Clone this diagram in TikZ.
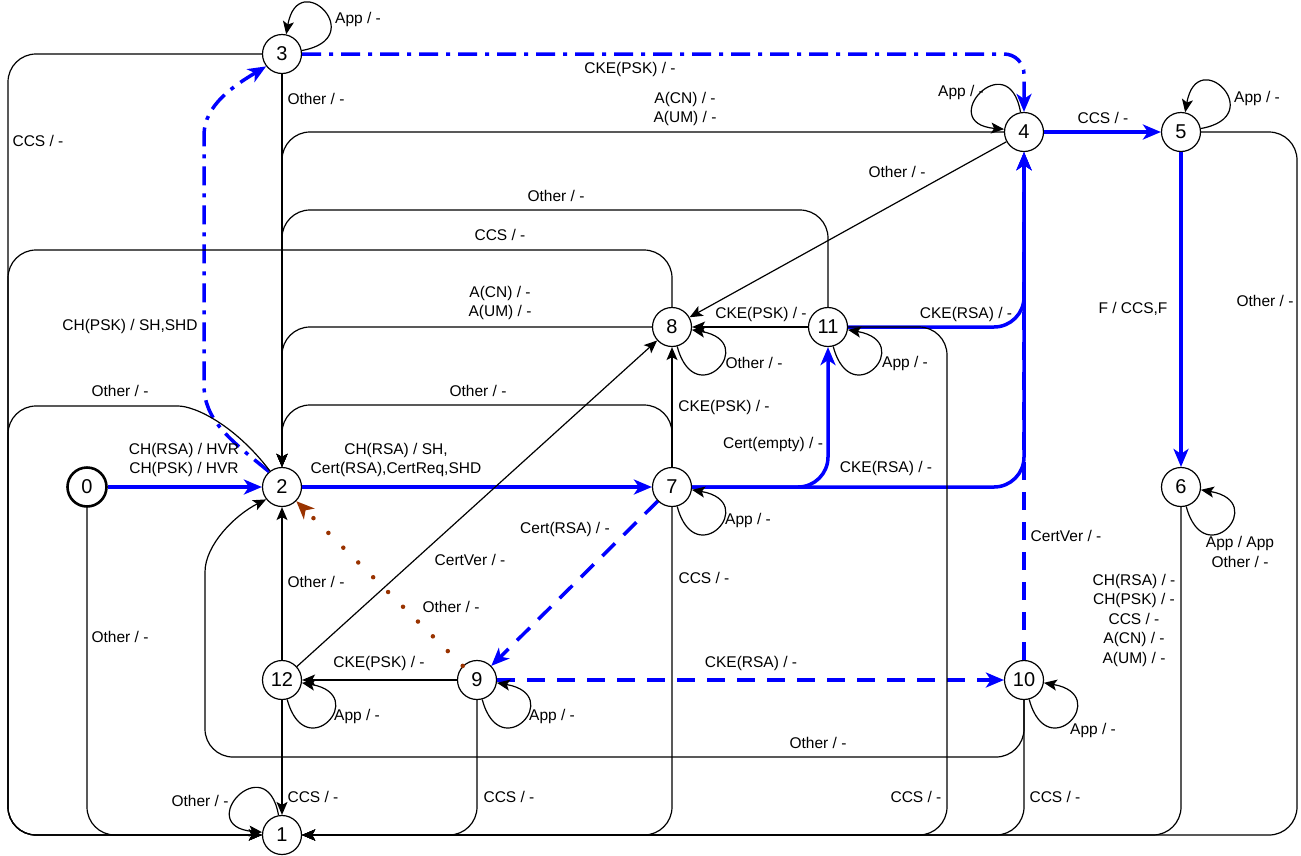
\documentclass[tikz,border=0pt]{standalone}
\usepackage{fontspec}
\setmainfont{Liberation Sans}
\usetikzlibrary{arrows.meta}
\definecolor{hsblue}{RGB}{0,0,255}
\definecolor{rust}{RGB}{153,51,0}

\begin{document}
\begin{tikzpicture}[
        x=1pt, y=1pt,
        every node/.style={font=\fontsize{15.5}{19.5}\selectfont},
        state/.style={draw, circle, minimum size=39pt, inner sep=0pt, line width=1.2pt,
                      fill=white, font=\fontsize{20}{24}\selectfont},
        init/.style={state, line width=2.6pt},
        lbl/.style={align=center, inner sep=0pt},
        tr/.style={-{Stealth[length=13pt, width=11pt, inset=3pt]}, line width=1.2pt,
                   rounded corners=28pt},
        hs/.style={-{Stealth[length=18pt, width=15pt, inset=5pt]}, line width=3.5pt,
                   draw=hsblue, rounded corners=30pt},
        psk/.style={hs, dash pattern=on 19pt off 8pt on 4pt off 8pt},
        rsa/.style={hs, dash pattern=on 18pt off 12pt},
        back/.style={-{Stealth[length=18pt, width=15pt, inset=5pt]}, draw=rust,
                     line width=4.5pt, line cap=round, dash pattern=on 0pt off 21pt}]

      \path[use as bounding box, fill=white] (0,0) rectangle (1301,-855);

      \node[init]  (n0)  at (87,-487)   {0};
      \node[state] (n1)  at (282,-835)  {1};
      \node[state] (n2)  at (282,-487)  {2};
      \node[state] (n3)  at (282,-54)   {3};
      \node[state] (n4)  at (1024,-132) {4};
      \node[state] (n5)  at (1181,-132) {5};
      \node[state] (n6)  at (1181,-487) {6};
      \node[state] (n7)  at (672,-487)  {7};
      \node[state] (n8)  at (672,-327)  {8};
      \node[state] (n9)  at (477,-680)  {9};
      \node[state] (n10) at (1024,-680) {10};
      \node[state] (n11) at (828,-327)  {11};
      \node[state] (n12) at (282,-680)  {12};

      % happy paths
      \draw[hs] (n0) -- (n2);
      \draw[hs] (n2) -- (n7);
      \draw[hs] (n4) -- (n5);
      \draw[hs] (n5) -- (n6);
      \draw[rsa] (n7) -- (n9);
      \draw[rsa] (n9) -- (n10);
      \draw[rsa] (n10) -- (n4);
      \draw[hs] (n7.east) -| (n11.south);
      \draw[hs] (n7.east) -| (n4.south);
      \draw[hs] (n11.east) -| (n4.south);
      \draw[psk, sharp corners] (n2.130) .. controls (230,-440) and (204,-420) .. (204,-385)
                 -- (204,-135) .. controls (204,-105) and (235,-85) .. (n3.218);
      \draw[psk, rounded corners=20pt] (n3.east) -| (n4.north);
      \draw[back] (n9) -- (n2);

      % to state 1
      \draw[tr] (n0.south) |- (n1.west);
      \draw[tr] (n3.west) -| (8,-835) -- (n1.west);
      \draw[tr] (n8.north) |- (8,-250) -- (8,-835) -- (n1.west);
      \draw[tr] (n2.127) .. controls (235,-425) and (195,-406) .. (150,-406) -| (8,-835) -- (n1.west);
      \draw[tr] (n12) -- (n1);
      \draw[tr] (n9.south) |- (n1.east);
      \draw[tr] (n7.south) |- (n1.east);
      \draw[tr] (n11.east) -| (947,-835) -- (n1.east);
      \draw[tr] (n10.south) |- (n1.east);
      \draw[tr] (n6.south) |- (n1.east);
      \draw[tr] (n5.east) -| (1297,-835) -- (n1.east);

      % to state 2
      \draw[tr] (n3) -- (n2);
      \draw[tr] (n4.west) -| (n2.north);
      \draw[tr] (n11.north) |- (282,-210) -- (n2.north);
      \draw[tr] (n8.west) -| (n2.north);
      \draw[tr] (n7.north) |- (282,-405) -- (n2.north);
      \draw[tr] (n12) -- (n2);
      \draw[tr] (n10.south) |- (205,-757) -- (205,-600)
                .. controls (205,-545) and (235,-515) .. (n2.218);

      % the rest
      \draw[tr] (n7) -- (n8);
      \draw[tr] (n11) -- (n8);
      \draw[tr] (n4) -- (n8);
      \draw[tr] (n12) -- (n8);
      \draw[tr] (n9) -- (n12);

      % self loops
      \draw[tr] (n1.100) .. controls +(100:70) and +(175:70) .. (n1.172);
      \draw[tr] (n3.10) .. controls +(10:70) and +(80:70) .. (n3.78);
      \draw[tr] (n4.100) .. controls +(100:70) and +(175:70) .. (n4.172);
      \draw[tr] (n5.10) .. controls +(10:70) and +(80:70) .. (n5.78);
      \draw[tr] (n6.-75) .. controls +(-75:70) and +(-10:70) .. (n6.-8);
      \draw[tr] (n7.-75) .. controls +(-75:70) and +(-10:70) .. (n7.-8);
      \draw[tr] (n8.-75) .. controls +(-75:70) and +(-10:70) .. (n8.-8);
      \draw[tr] (n9.-75) .. controls +(-75:70) and +(-10:70) .. (n9.-8);
      \draw[tr] (n10.-75) .. controls +(-75:70) and +(-10:70) .. (n10.-8);
      \draw[tr] (n11.-75) .. controls +(-75:70) and +(-10:70) .. (n11.-8);
      \draw[tr] (n12.-75) .. controls +(-75:70) and +(-10:70) .. (n12.-8);

      \node[lbl] (t02)  at (184,-460)  {CH(RSA) / HVR\\CH(PSK) / HVR};
      \node[lbl] (t27)  at (396,-460)  {CH(RSA) / SH,\\Cert(RSA),CertReq,SHD};
      \node[lbl] (t23)  at (130,-326)  {CH(PSK) / SH,SHD};
      \node[lbl] (t34)  at (630,-69)   {CKE(PSK) / -};
      \node[lbl] (t45)  at (1103,-118) {CCS / -};
      \node[lbl] (t56)  at (1133,-309) {F / CCS,F};
      \node[lbl] (t79)  at (565,-529)  {Cert(RSA) / -};
      \node[lbl] (t910) at (751,-663)  {CKE(RSA) / -};
      \node[lbl] (t104) at (1066,-536) {CertVer / -};
      \node[lbl] (t711) at (773,-444)  {Cert(empty) / -};
      \node[lbl] (t74)  at (886,-468)  {CKE(RSA) / -};
      \node[lbl] (t114) at (966,-314)  {CKE(RSA) / -};
      \node[lbl] (t92)  at (451,-607)  {Other / -};

      \node[lbl] (t01)  at (120,-637)  {Other / -};
      \node[lbl] (t31)  at (38,-141)   {CCS / -};
      \node[lbl] (t81)  at (500,-235)  {CCS / -};
      \node[lbl] (t21)  at (120,-391)  {Other / -};
      \node[lbl] (t121) at (313,-797)  {CCS / -};
      \node[lbl] (t91)  at (509,-797)  {CCS / -};
      \node[lbl] (t71)  at (704,-578)  {CCS / -};
      \node[lbl] (t111) at (916,-797)  {CCS / -};
      \node[lbl] (t101) at (1055,-797) {CCS / -};
      \node[lbl] (t61)  at (1134,-620) {CH(RSA) / -\\CH(PSK) / -\\CCS / -\\A(CN) / -\\A(UM) / -};
      \node[lbl] (t51)  at (1265,-301) {Other / -};

      \node[lbl] (t32)  at (316,-99)   {Other / -};
      \node[lbl] (t42)  at (685,-109)  {A(CN) / -\\A(UM) / -};
      \node[lbl] (t112) at (556,-196)  {Other / -};
      \node[lbl] (t82)  at (500,-303)  {A(CN) / -\\A(UM) / -};
      \node[lbl] (t72)  at (478,-391)  {Other / -};
      \node[lbl] (t122) at (316,-582)  {Other / -};
      \node[lbl] (t102) at (818,-743)  {Other / -};

      \node[lbl] (t78)  at (724,-407)  {CKE(PSK) / -};
      \node[lbl] (t118) at (761,-314)  {CKE(PSK) / -};
      \node[lbl] (t48)  at (897,-172)  {Other / -};
      \node[lbl] (t128) at (470,-560)  {CertVer / -};
      \node[lbl] (t912) at (379,-663)  {CKE(PSK) / -};

      \node[lbl] (l1)  at (200,-801)  {Other / -};
      \node[lbl] (l3)  at (358,-19)   {App / -};
      \node[lbl] (l4)  at (961,-92)   {App / -};
      \node[lbl] (l5)  at (1257,-98)  {App / -};
      \node[lbl] (l6)  at (1240,-552) {App / App\\Other / -};
      \node[lbl] (l7)  at (748,-520)  {App / -};
      \node[lbl] (l8)  at (754,-363)  {Other / -};
      \node[lbl] (l9)  at (552,-716)  {App / -};
      \node[lbl] (l10) at (1093,-730) {App / -};
      \node[lbl] (l11) at (905,-363)  {App / -};
      \node[lbl] (l12) at (357,-716)  {App / -};
    \end{tikzpicture}
\end{document}
